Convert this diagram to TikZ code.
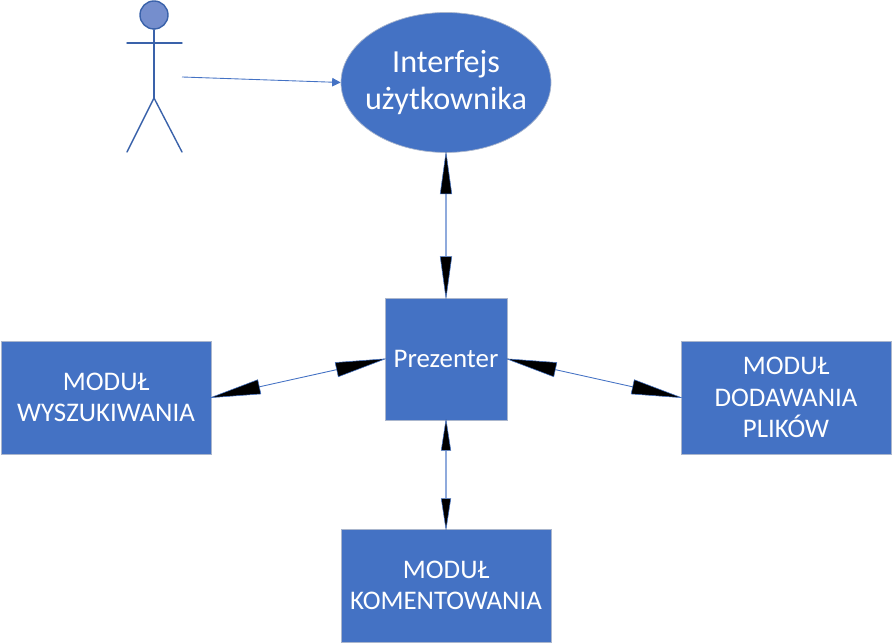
\documentclass[tikz,border=0pt]{standalone}
\usepackage{fontspec}
\setmainfont{Carlito}
\usetikzlibrary{arrows.meta,shapes.geometric}
\definecolor{boxblue}{RGB}{68,114,196}
\definecolor{edgeblue}{RGB}{58,98,170}
\definecolor{headblue}{RGB}{117,142,205}
\definecolor{rimgray}{RGB}{170,182,205}
\tikzset{
	modul/.style={draw=rimgray,fill=boxblue,text=white,minimum width=4.2cm,minimum height=2.26cm,align=center,inner sep=0pt,font=\fontsize{15.3}{18}\selectfont},
	link/.style={draw=boxblue,line width=0.5pt,shorten <=-1.5pt,shorten >=-1.5pt,{Triangle[length=1.04cm,width=0.3cm,fill=black,color=boxblue,line width=0.3pt]}-{Triangle[length=1.04cm,width=0.3cm,fill=black,color=boxblue,line width=0.3pt]}},
	vlink/.style 2 args={draw=boxblue!60,line width=0.7pt,shorten <=-1.5pt,shorten >=-1.5pt,{Triangle[length=#1,width=#2,fill=black,color=boxblue,line width=0.3pt]}-{Triangle[length=#1,width=#2,fill=black,color=boxblue,line width=0.3pt]}},
	limb/.style={draw=edgeblue,line width=0.8pt,line cap=round}
}
\begin{document}
\begin{tikzpicture}
	\useasboundingbox (0,0) rectangle (17.84,12.88);
	% modules
	\node[modul,minimum width=2.44cm,minimum height=2.44cm] (prezenter) at (8.92,5.70) {\raisebox{-1pt}{Prezenter}};
	\node[modul] (wyszukiwania) at (2.12,4.93) {MODUŁ\\WYSZUKIWANIA};
	\node[modul] (dodawania) at (15.72,4.93) {MODUŁ\\DODAWANIA\\PLIKÓW};
	\node[modul] (komentowania) at (8.92,1.17) {MODUŁ\\KOMENTOWANIA};
	\node[ellipse,draw=rimgray,fill=boxblue,text=white,minimum width=4.2cm,minimum height=2.8cm,inner sep=-0.3cm,align=center,font=\fontsize{18.3}{21}\selectfont] (interfejs) at (8.92,11.23) {Interfejs\\użytkownika};
	% actor
	\node[circle,draw=edgeblue,fill=headblue,line width=0.8pt,minimum size=0.56cm,inner sep=0pt] (glowa) at (3.08,12.58) {};
	\coordinate (biodra) at (3.08,10.92);
	\coordinate (ramieL) at (2.54,12.02);
	\coordinate (ramieP) at (3.64,12.02);
	\coordinate (nogaL) at (2.54,9.84);
	\coordinate (nogaP) at (3.64,9.84);
	\coordinate (start) at (3.64,11.34);
	\draw[limb] (glowa.south)--(biodra);
	\draw[limb] (ramieL)--(ramieP);
	\draw[limb] (nogaL)--(biodra)--(nogaP);
	% connectors
	\draw[draw=boxblue,line width=0.5pt,-{Triangle[length=0.17cm,width=0.17cm]}] (start)--(interfejs.west);
	\draw[vlink={0.88cm}{0.24cm}] (interfejs.south)--(prezenter.north);
	\draw[vlink={0.66cm}{0.2cm}] (prezenter.south)--(komentowania.north);
	\draw[link] (prezenter.west)--(wyszukiwania.east);
	\draw[link] (prezenter.east)--(dodawania.west);
\end{tikzpicture}
\end{document}
